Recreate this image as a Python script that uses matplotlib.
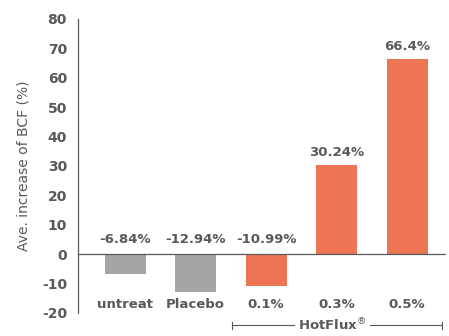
import numpy as np
import matplotlib
matplotlib.use('Agg')
import matplotlib.pyplot as plt

# data
groups = ['untreat', 'Placebo', '0.1%', '0.3%', '0.5%']
values = [-6.84, -12.94, -10.99, 30.24, 66.4]
value_labels = ['-6.84%', '-12.94%', '-10.99%', '30.24%', '66.4%']
is_hotflux = [False, False, True, True, True]

gray = '#A5A5A5'
orange = '#ED7455'
txt = '#595959'

plt.rcParams['font.family'] = ['DejaVu Sans']
plt.rcParams['axes.unicode_minus'] = False

fig = plt.figure(figsize=(4.49, 3.36), dpi=100)
ax = fig.add_axes([0.1737, 0.0685, 0.8193, 0.875])

x = np.arange(len(groups))
colors = [orange if h else gray for h in is_hotflux]
ax.bar(x, values, width=0.58, color=colors, zorder=2)

ax.set_xlim(-0.67, 4.55)
ax.set_ylim(-20, 80)
ax.set_yticks(np.arange(-20, 81, 10))
ax.tick_params(axis='y', length=0, pad=8, labelsize=10, labelcolor=txt)
for lab in ax.get_yticklabels():
    lab.set_fontweight('bold')
ax.set_xticks([])
ax.set_ylabel('Ave. increase of BCF (%)', fontsize=10, color=txt, labelpad=8)

for s in ['top', 'right', 'bottom']:
    ax.spines[s].set_visible(False)
ax.spines['left'].set_color(txt)
ax.spines['left'].set_linewidth(0.9)
ax.axhline(0, color=txt, lw=0.9, zorder=3)

# value labels
for xi, v, lab in zip(x, values, value_labels):
    y = v + 2 if v > 0 else 2.8
    ax.text(xi, y, lab, ha='center', va='bottom', fontsize=9.5,
            fontweight='bold', color=txt)

# category labels under the zero line
for xi, g in zip(x, groups):
    ax.text(xi, -17, g, ha='center', va='center', fontsize=9.5,
            fontweight='bold', color=txt)

# HotFlux bracket
hx = x[np.array(is_hotflux)]
left, right = hx[0] - 0.49, hx[-1] + 0.49
mid = (left + right) / 2
yb = -24.2
kw = dict(color=txt, lw=0.8, clip_on=False)
ax.plot([left, mid - 0.6], [yb, yb], **kw)
ax.plot([mid + 0.48, right], [yb, yb], **kw)
ax.plot([left, left], [yb - 1.3, yb + 1.3], **kw)
ax.plot([right, right], [yb - 1.3, yb + 1.3], **kw)
ax.text(mid - 0.06, yb, r'HotFlux$^{\circledR}$', ha='center', va='center',
        fontsize=9.5, fontweight='bold', color=txt, clip_on=False)

fig.savefig('out.png', dpi=100)
